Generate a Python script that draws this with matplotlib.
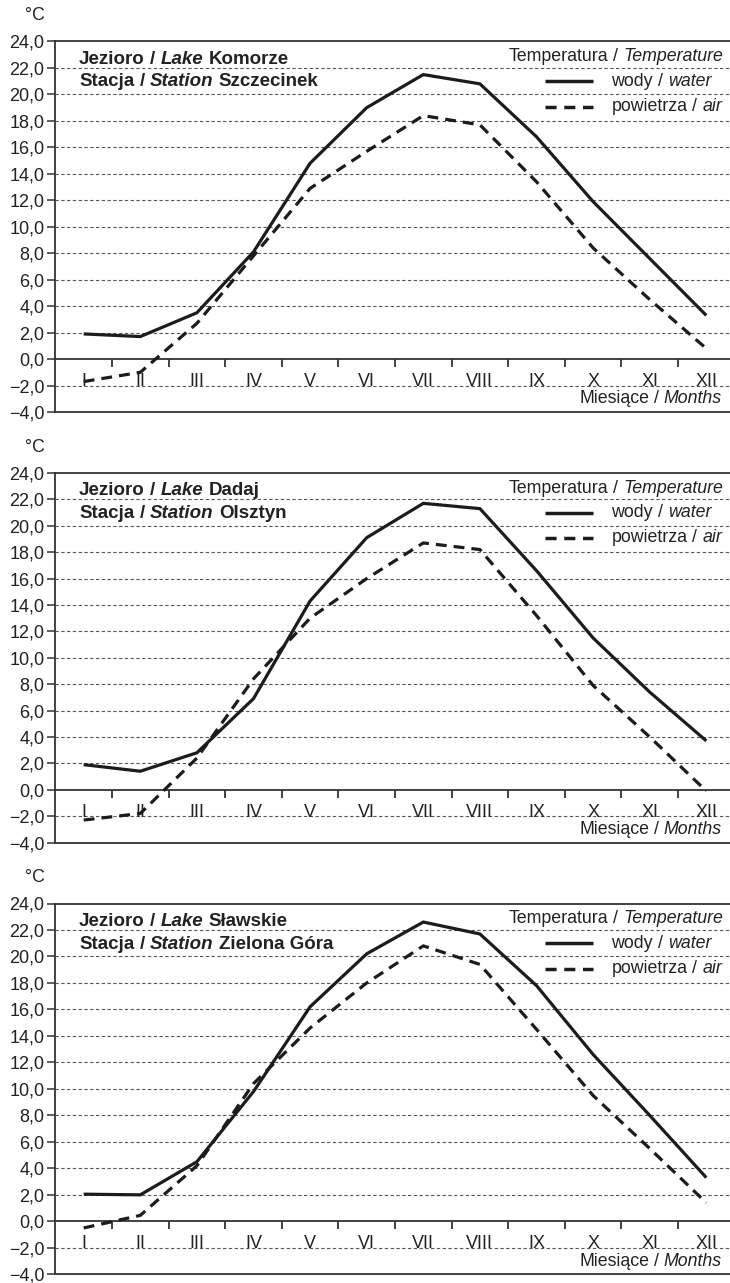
import matplotlib
matplotlib.use("Agg")
import matplotlib.pyplot as plt
from matplotlib.transforms import blended_transform_factory, IdentityTransform

# ---------------- data ----------------
months = ["I", "II", "III", "IV", "V", "VI", "VII", "VIII", "IX", "X", "XI", "XII"]

lakes = ["Komorze", "Dadaj", "Sławskie"]
stations = ["Szczecinek", "Olsztyn", "Zielona Góra"]

water_komorze = [1.9, 1.7, 3.5, 8.1, 14.8, 19.0, 21.5, 20.8, 16.8, 11.9, 7.6, 3.3]
air_szczecinek = [-1.7, -1.0, 2.7, 7.8, 12.9, 15.7, 18.4, 17.7, 13.4, 8.4, 4.5, 0.8]

water_dadaj = [1.9, 1.4, 2.8, 6.9, 14.3, 19.1, 21.7, 21.3, 16.6, 11.5, 7.4, 3.7]
air_olsztyn = [-2.3, -1.8, 2.4, 8.4, 13.0, 16.0, 18.7, 18.2, 13.2, 7.9, 4.0, -0.1]

water_slawskie = [2.05, 2.0, 4.5, 9.8, 16.2, 20.2, 22.6, 21.7, 17.8, 12.6, 8.0, 3.3]
air_zielona_gora = [-0.5, 0.45, 4.2, 10.4, 14.6, 18.0, 20.8, 19.4, 14.5, 9.5, 5.5, 1.4]

water_series = [water_komorze, water_dadaj, water_slawskie]
air_series = [air_szczecinek, air_olsztyn, air_zielona_gora]

yticks = [-4, -2, 0, 2, 4, 6, 8, 10, 12, 14, 16, 18, 20, 22, 24]
ytick_labels = ["−4,0", "−2,0", "0,0", "2,0", "4,0", "6,0", "8,0", "10,0",
                "12,0", "14,0", "16,0", "18,0", "20,0", "22,0", "24,0"]

legend_title = [("Temperatura", "normal", "normal"), ("/", "normal", "normal"),
                ("Temperature", "normal", "italic")]
legend_water = [("wody", "normal", "normal"), ("/", "normal", "normal"), ("water", "normal", "italic")]
legend_air = [("powietrza", "normal", "normal"), ("/", "normal", "normal"), ("air", "normal", "italic")]
xlabel_pieces = [("Miesiące", "normal", "normal"), ("/", "normal", "normal"), ("Months", "normal", "italic")]

# ---------------- style ----------------
FONT = "Liberation Sans"
plt.rcParams["font.family"] = [FONT, "DejaVu Sans"]
TXT = "#222222"
LINE = "#1c1c1c"
GRID = "#555555"
FS = 12.8
FS_TITLE = 13.5

W, H = 730, 1283
fig = plt.figure(figsize=(W / 100, H / 100), dpi=100)
renderer = fig.canvas.get_renderer()

left = 55.4 / W
width = (734.6 - 55.4) / W
panels_px = [(41.5, 412.0), (473.0, 842.5), (903.5, 1274.3)]


def space_width(weight, style, fs):
    a = fig.text(0, 0, "aa", fontsize=fs, weight=weight, style=style)
    b = fig.text(0, 0, "a a", fontsize=fs, weight=weight, style=style)
    w = b.get_window_extent(renderer).width - a.get_window_extent(renderer).width
    a.remove(); b.remove()
    return w


def rich_text(ax, x_px, y_val, pieces, ha="left", fs=FS):
    trans = blended_transform_factory(IdentityTransform(), ax.transData)
    texts = []
    widths = []
    for (s, weight, style) in pieces:
        t = ax.text(0, y_val, s, transform=trans, fontsize=fs, weight=weight,
                    style=style, color=TXT, ha="left", va="baseline")
        texts.append(t)
        widths.append(t.get_window_extent(renderer).width)
    gaps = [space_width(pieces[i][1], pieces[i][2], fs) for i in range(len(pieces) - 1)]
    total = sum(widths) + sum(gaps)
    x = x_px if ha == "left" else x_px - total
    for i, t in enumerate(texts):
        t.set_x(x)
        x += widths[i] + (gaps[i] if i < len(gaps) else 0)


xs = list(range(1, len(months) + 1))

for k in range(3):
    top_px, bot_px = panels_px[k]
    ax = fig.add_axes([left, 1 - bot_px / H, width, (bot_px - top_px) / H])
    ax.set_xlim(0.5, len(months) + 0.5)
    ax.set_ylim(-4, 24)
    ax.set_facecolor("none")

    for s in ["top", "left", "bottom"]:
        ax.spines[s].set_color("#333333")
        ax.spines[s].set_linewidth(1.3)
    ax.spines["right"].set_visible(False)

    ax.set_yticks(yticks)
    ax.set_yticklabels(ytick_labels)
    ax.tick_params(axis="y", direction="out", length=6, width=1.1, color="#333333",
                   labelsize=13, labelcolor=TXT, pad=2)
    ax.set_xticks([])

    # dashed grid
    for yv in yticks[1:-1]:
        if yv == 0:
            continue
        ax.axhline(yv, color=GRID, lw=0.8, dashes=(3.0, 2.2), zorder=1)
    # zero line with month-boundary ticks
    ax.axhline(0, color="#333333", lw=1.3, zorder=2)
    ax.vlines([x + 0.5 for x in xs[:-1]], -0.6, 0, color="#333333", lw=1.3, zorder=2)

    # month labels
    for x, m in zip(xs, months):
        ax.text(x, -2.05, m, ha="center", va="baseline", fontsize=13, color=TXT, zorder=3)

    # data
    ax.plot(xs, water_series[k], color=LINE, lw=2.3, solid_joinstyle="miter",
            solid_capstyle="butt", zorder=4)
    ax.plot(xs, air_series[k], color=LINE, lw=2.3, dashes=(3.4, 2.2),
            dash_capstyle="butt", zorder=4)

    # legend samples
    trans_px = blended_transform_factory(IdentityTransform(), ax.transData)
    ax.plot([545, 593], [21.0, 21.0], transform=trans_px, color=LINE, lw=2.5,
            solid_capstyle="butt")
    ax.plot([545, 593], [19.05, 19.05], transform=trans_px, color=LINE, lw=2.5,
            dashes=(3.2, 2.2), dash_capstyle="butt")

    # titles
    rich_text(ax, 79, 22.3, [("Jezioro", "bold", "normal"), ("/", "bold", "normal"),
                             ("Lake", "bold", "italic"), (lakes[k], "bold", "normal")],
              fs=FS_TITLE)
    rich_text(ax, 79, 20.6, [("Stacja", "bold", "normal"), ("/", "bold", "normal"),
                             ("Station", "bold", "italic"), (stations[k], "bold", "normal")],
              fs=FS_TITLE)
    rich_text(ax, 723, 22.5, legend_title, ha="right")
    rich_text(ax, 611.5, 20.65, legend_water)
    rich_text(ax, 611.5, 18.75, legend_air)
    rich_text(ax, 722, -3.35, xlabel_pieces, ha="right")

    ax.annotate("°C", xy=(0, 1), xycoords="axes fraction", xytext=(-20, 26),
                textcoords="offset pixels", ha="center", va="center",
                fontsize=FS, color=TXT)

fig.savefig("out.png", dpi=100)
